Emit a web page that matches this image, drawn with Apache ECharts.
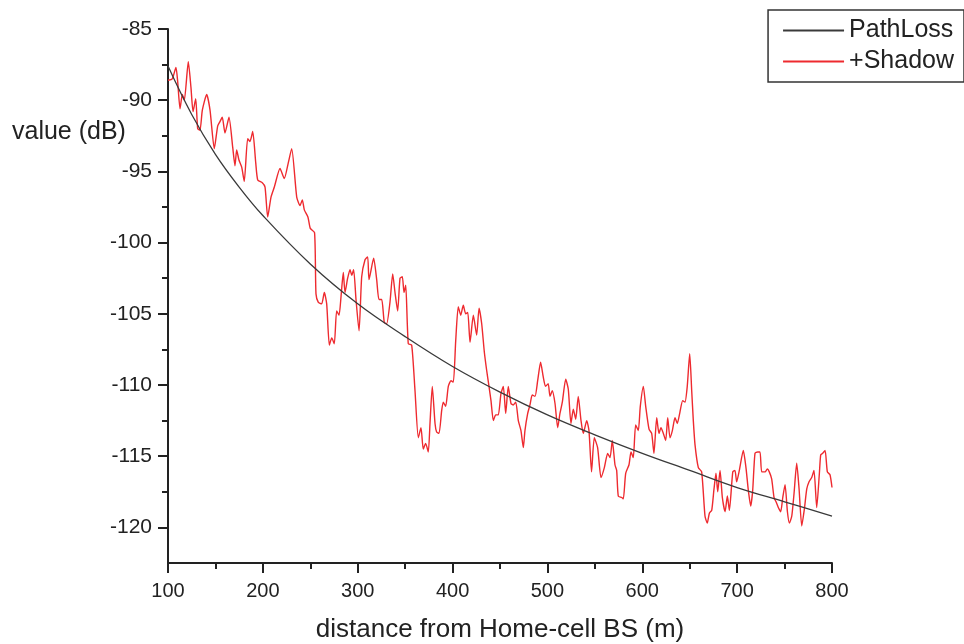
<!DOCTYPE html>
<html>
<head>
<meta charset="utf-8">
<script src="https://cdn.jsdelivr.net/npm/echarts@6.0.0/dist/echarts.min.js"></script>
<style>
  html, body { margin: 0; padding: 0; background: #fff; }
  #main { width: 964px; height: 644px; }
</style>
</head>
<body>
<div id="main"></div>
<script>
// path loss curve
var pathDist = [100, 125, 150, 175, 200, 250, 300, 350, 400, 450, 500, 550, 600, 650, 700, 750, 800];
var pathLoss = [-87.6, -91.0, -93.8, -96.1, -98.1, -101.5, -104.3, -106.6, -108.7, -110.5, -112.1, -113.5, -114.8, -116.0, -117.2, -118.2, -119.2];

// path loss + shadowing, traced point by point
var shadowDist = [
  100, 104.5, 108.4, 110.2, 112.7, 115.1, 117.2, 121.4, 124.2, 126.4, 129.2, 131.3, 133.7, 136.2, 140.8, 144.3,
  148.8, 152.4, 154.8, 157.2, 160.1, 164.3, 168.2, 170.6, 172.4, 174.8, 177.7, 180.4, 184.0, 186.4, 189.3, 192.5,
  194.6, 199.4, 202.3, 205.1, 208.6, 212.1, 218.1, 222.6, 226.8, 230.4, 235.7, 239.2, 241.6, 243.7, 247.5, 250.0,
  254.5, 256.0, 258.5, 262.0, 264.8, 267.3, 270.1, 272.6, 275.3, 277.8, 280.3, 282.4, 284.8, 286.6, 289.4, 291.9,
  293.7, 295.7, 298.2, 301.4, 304.2, 307.7, 310.5, 311.9, 316.8, 320.0, 322.4, 325.3, 328.0, 330.5, 334.0, 336.9,
  339.3, 342.1, 344.6, 347.0, 348.8, 350.6, 353.3, 356.9, 360.4, 363.9, 366.7, 369.1, 371.6, 374.4, 376.2, 378.6,
  381.5, 383.2, 385.7, 388.5, 390.2, 392.7, 395.5, 398.3, 400.8, 403.3, 406.0, 408.6, 411.3, 413.8, 416.0, 418.4,
  421.9, 425.4, 427.9, 430.7, 433.5, 436.0, 438.4, 440.5, 443.0, 445.5, 448.2, 451.0, 453.5, 456.0, 458.7, 461.6,
  464.0, 466.6, 469.3, 472.1, 474.6, 476.3, 479.2, 481.6, 484.0, 486.9, 489.7, 492.8, 495.5, 498.0, 500.8, 502.7,
  505.1, 508.0, 510.8, 513.2, 515.7, 519.3, 522.0, 524.8, 527.3, 529.8, 532.5, 535.4, 537.8, 541.4, 543.8, 546.5,
  549.4, 552.9, 556.5, 560.0, 563.5, 566.0, 568.4, 571.2, 573.0, 574.7, 578.3, 580.0, 582.5, 586.0, 588.1, 590.5,
  593.0, 595.8, 597.9, 601.1, 603.6, 607.1, 609.9, 612.3, 615.2, 617.6, 619.7, 622.2, 624.7, 626.8, 629.2, 631.7,
  634.5, 636.9, 639.7, 642.6, 645.0, 647.4, 650.0, 652.1, 653.8, 655.6, 659.1, 662.6, 666.1, 668.5, 670.7, 673.2,
  675.6, 677.7, 679.5, 682.0, 684.4, 687.3, 689.7, 691.8, 695.4, 697.7, 699.5, 702.3, 706.5, 709.3, 711.8, 714.3,
  716.4, 718.8, 721.6, 724.1, 725.9, 729.4, 731.8, 733.9, 736.4, 738.9, 741.0, 743.4, 745.9, 748.1, 750.5, 753.0,
  755.1, 757.6, 760.0, 762.8, 765.3, 768.1, 770.9, 773.4, 775.8, 778.6, 781.0, 783.9, 786.7, 788.1, 790.2, 792.7,
  795.1, 797.9, 800
];
var shadowVal = [
  -88.6, -88.5, -87.7, -88.7, -90.6, -89.6, -90.0, -87.3, -89.1, -90.8, -89.9, -92.0, -92.1, -90.7, -89.6, -90.7,
  -93.4, -91.8, -91.5, -91.2, -92.3, -91.2, -93.3, -94.6, -93.5, -94.2, -94.7, -95.7, -92.7, -92.9, -92.2, -94.4,
  -95.6, -95.8, -96.1, -98.2, -96.8, -96.1, -94.8, -95.5, -94.4, -93.4, -96.8, -97.4, -97.0, -97.7, -98.2, -99.0,
  -99.3, -103.6, -104.2, -104.3, -103.5, -104.3, -107.2, -106.7, -107.1, -104.8, -105.1, -103.8, -102.1, -103.5, -102.5, -101.9,
  -102.3, -101.9, -104.0, -106.2, -102.4, -101.2, -101.0, -102.6, -101.1, -102.6, -104.0, -104.0, -105.6, -105.7, -104.2, -102.2,
  -103.5, -104.8, -102.5, -102.4, -103.5, -103.0, -107.1, -107.2, -110.4, -113.7, -113.0, -114.5, -114.1, -114.7, -112.7, -110.1,
  -112.7, -113.3, -113.4, -111.8, -111.2, -111.5, -110.1, -109.7, -109.8, -106.9, -104.5, -105.1, -104.4, -105.0, -104.9, -107.0,
  -105.1, -106.5, -104.6, -105.7, -107.7, -109.0, -110.1, -111.1, -112.5, -112.1, -112.1, -110.6, -110.1, -112.0, -110.1, -111.3,
  -111.4, -111.2, -112.5, -113.2, -114.4, -113.2, -112.0, -111.4, -110.7, -110.8, -109.7, -108.4, -109.4, -110.1, -109.9, -110.8,
  -110.4, -111.3, -113.0, -112.0, -111.2, -109.6, -110.3, -112.7, -111.7, -112.4, -110.8, -112.5, -113.4, -112.5, -113.2, -116.1,
  -113.7, -114.4, -116.5, -115.8, -114.8, -115.1, -113.9, -115.6, -116.0, -117.8, -117.9, -118.0, -116.2, -115.6, -114.7, -115.1,
  -112.8, -113.2, -111.5, -110.1, -111.5, -113.1, -113.4, -114.8, -112.3, -113.4, -113.0, -113.4, -113.9, -112.3, -113.7, -113.2,
  -112.3, -112.7, -111.9, -111.1, -111.2, -110.1, -107.8, -110.4, -112.5, -114.2, -115.8, -116.1, -119.2, -119.7, -119.0, -118.8,
  -117.3, -116.2, -117.5, -116.0, -117.9, -118.9, -117.8, -118.8, -116.1, -116.0, -116.8, -116.0, -114.6, -115.8, -117.4, -118.5,
  -117.4, -114.8, -114.7, -114.7, -116.1, -116.1, -115.9, -116.1, -116.6, -117.9, -118.2, -118.6, -118.9, -117.9, -117.0, -118.9,
  -119.7, -119.2, -117.6, -115.5, -117.3, -119.9, -118.7, -117.3, -116.8, -116.5, -116.0, -118.6, -116.2, -114.9, -114.8, -114.6,
  -116.1, -116.3, -117.2
];

var yMajor = [-120, -115, -110, -105, -100, -95, -90, -85];
var yMinor = [-117.5, -112.5, -107.5, -102.5, -97.5, -92.5, -87.5];

var font = 'Liberation Sans, Arial, sans-serif';

function zip(xs, ys) {
  return xs.map(function (x, i) { return [x, ys[i]]; });
}

var chart = echarts.init(document.getElementById('main'));

var option = {
  backgroundColor: '#fff',
  animation: false,
  grid: { left: 168, right: 132, top: 29, bottom: 81, containLabel: false, outerBoundsMode: 'none' },
  legend: {
    right: 0,
    top: 10,
    orient: 'vertical',
    itemWidth: 61,
    itemHeight: 25,
    itemGap: 6,
    padding: [8, 10, 8, 14],
    borderColor: '#333',
    borderWidth: 1.5,
    borderRadius: 0,
    itemStyle: { color: 'transparent', borderColor: 'transparent', borderWidth: 0, opacity: 0 },
    textStyle: { fontFamily: font, fontSize: 25, color: '#222' },
    data: ['PathLoss', '+Shadow']
  },
  graphic: [{
    type: 'text',
    left: 12,
    top: 120,
    style: { text: 'value (dB)', fontFamily: font, fontSize: 25, fill: '#222' }
  }],
  xAxis: {
    type: 'value',
    min: 100,
    max: 800,
    interval: 100,
    name: 'distance from Home-cell BS (m)',
    nameLocation: 'middle',
    nameGap: 54,
    nameTextStyle: { fontFamily: font, fontSize: 26, color: '#222' },
    axisLine: { onZero: false, lineStyle: { color: '#222', width: 2 } },
    axisTick: { length: 10, lineStyle: { color: '#222', width: 2 } },
    minorTick: { show: true, splitNumber: 2, length: 6, lineStyle: { color: '#222', width: 2 } },
    axisLabel: { margin: 18, fontFamily: font, fontSize: 20, color: '#222' },
    splitLine: { show: false }
  },
  yAxis: [{
    type: 'value',
    position: 'left',
    min: -122.5,
    max: -85,
    axisLine: { onZero: false, lineStyle: { color: '#222', width: 2 } },
    axisTick: { length: 10, customValues: yMajor, lineStyle: { color: '#222', width: 2 } },
    axisLabel: { customValues: yMajor, margin: 16, fontFamily: font, fontSize: 21, color: '#222' },
    splitLine: { show: false }
  }, {
    type: 'value',
    position: 'left',
    offset: 0,
    min: -122.5,
    max: -85,
    axisLine: { show: false },
    axisTick: { length: 6, customValues: yMinor, lineStyle: { color: '#222', width: 2 } },
    axisLabel: { show: false },
    splitLine: { show: false }
  }],
  series: [{
    name: 'PathLoss',
    type: 'line',
    yAxisIndex: 0,
    data: zip(pathDist, pathLoss),
    smooth: 0.4,
    symbol: 'none',
    lineStyle: { color: '#3a3a3a', width: 1.3 },
    itemStyle: { color: '#3a3a3a' },
    z: 3
  }, {
    name: '+Shadow',
    type: 'line',
    yAxisIndex: 0,
    data: zip(shadowDist, shadowVal),
    smooth: 0.2,
    symbol: 'none',
    lineStyle: { color: '#ee2a2f', width: 1.4 },
    itemStyle: { color: '#ee2a2f' },
    z: 2
  }]
};

chart.setOption(option);
</script>
</body>
</html>
